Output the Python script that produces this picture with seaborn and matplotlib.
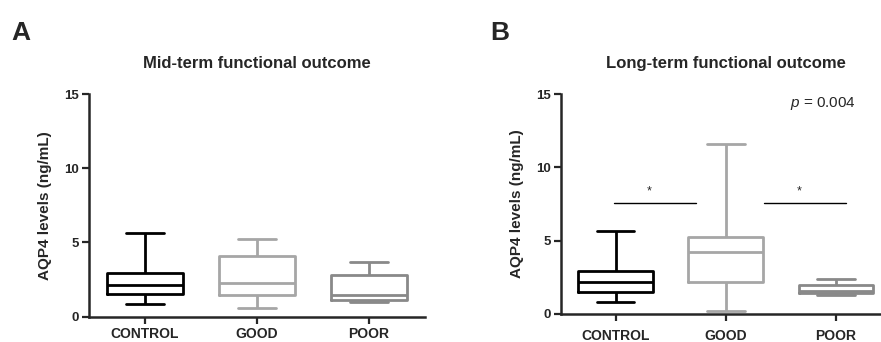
import pandas as pd
import seaborn as sns
import matplotlib.pyplot as plt

# 先设置 Seaborn 样式, 再覆盖字体
sns.set_style("ticks")
plt.rcParams['font.family'] = ['Liberation Sans', 'DejaVu Sans']
plt.rcParams['mathtext.fontset'] = 'custom'
plt.rcParams['mathtext.it'] = 'Liberation Sans:italic'
plt.rcParams['mathtext.rm'] = 'Liberation Sans'

groups = ["CONTROL", "GOOD", "POOR"]
colors = ["#000000", "#a6a6a6", "#898989"]

# five-number summaries (min, Q1, median, Q3, max)
control_mid = [0.85, 1.54, 2.14, 2.92, 5.63]
good_mid = [0.60, 1.43, 2.28, 4.08, 5.22]
poor_mid = [1.02, 1.10, 1.45, 2.79, 3.68]

control_long = [0.80, 1.48, 2.16, 2.93, 5.67]
good_long = [0.18, 2.16, 4.23, 5.26, 11.58]
poor_long = [1.26, 1.40, 1.57, 1.96, 2.39]

titles = ["Mid-term functional outcome", "Long-term functional outcome"]
panel_labels = ["A", "B"]
yticks = [0, 5, 10, 15]

# significance bars for panel B: (x0, x1, y)
sig_bars = [(-0.02, 0.73, 7.6), (1.35, 2.09, 7.6)]
p_text = "0.004"


def make_df(values):
    rows = []
    for g, vals in zip(groups, values):
        for v in vals:
            rows.append({"group": g, "value": v})
    return pd.DataFrame(rows)


fig = plt.figure(figsize=(8.81, 3.42), dpi=100)
ax_a = fig.add_axes([0.101, 0.074, 0.381, 0.651])
ax_b = fig.add_axes([0.6364, 0.082, 0.375, 0.643])

datasets = [
    make_df([control_mid, good_mid, poor_mid]),
    make_df([control_long, good_long, poor_long]),
]

for ax, df, title, xpad in zip([ax_a, ax_b], datasets, titles, [2.5, 6]):
    sns.boxplot(data=df, x="group", y="value", hue="group", order=groups,
                hue_order=groups, palette=colors, fill=False, whis=(0, 100),
                width=0.68, linewidth=2.0, legend=False, ax=ax)
    ax.set_ylim(0, 15)
    ax.set_xlim(-0.5, 2.5)
    ax.set_yticks(yticks)
    ax.set_xlabel("")
    ax.set_ylabel("AQP4 levels (ng/mL)", fontsize=11, fontweight="bold", labelpad=9)
    ax.set_title(title, fontsize=12, fontweight="bold", pad=19)
    sns.despine(ax=ax)
    for sp in ["left", "bottom"]:
        ax.spines[sp].set_linewidth(1.8)
    ax.tick_params(axis="both", width=1.6, length=5, direction="out")
    ax.tick_params(axis="y", labelsize=9.5, pad=2)
    ax.tick_params(axis="x", labelsize=10, pad=xpad)
    for t in ax.get_xticklabels() + ax.get_yticklabels():
        t.set_fontweight("bold")

fig.text(0.0125, 0.883, panel_labels[0], fontsize=19, fontweight="bold")
fig.text(0.556, 0.883, panel_labels[1], fontsize=19, fontweight="bold")

# significance markers
for x0, x1, y in sig_bars:
    ax_b.plot([x0, x1], [y, y], color="black", linewidth=1.0)
    ax_b.text((x0 + x1) / 2 - 0.05, y + 0.35, "*", ha="center", va="bottom", fontsize=9)

ax_b.text(1.58, 14.1, "$p$ = " + p_text, fontsize=11, ha="left", va="baseline")

fig.savefig("out.png", dpi=100)
